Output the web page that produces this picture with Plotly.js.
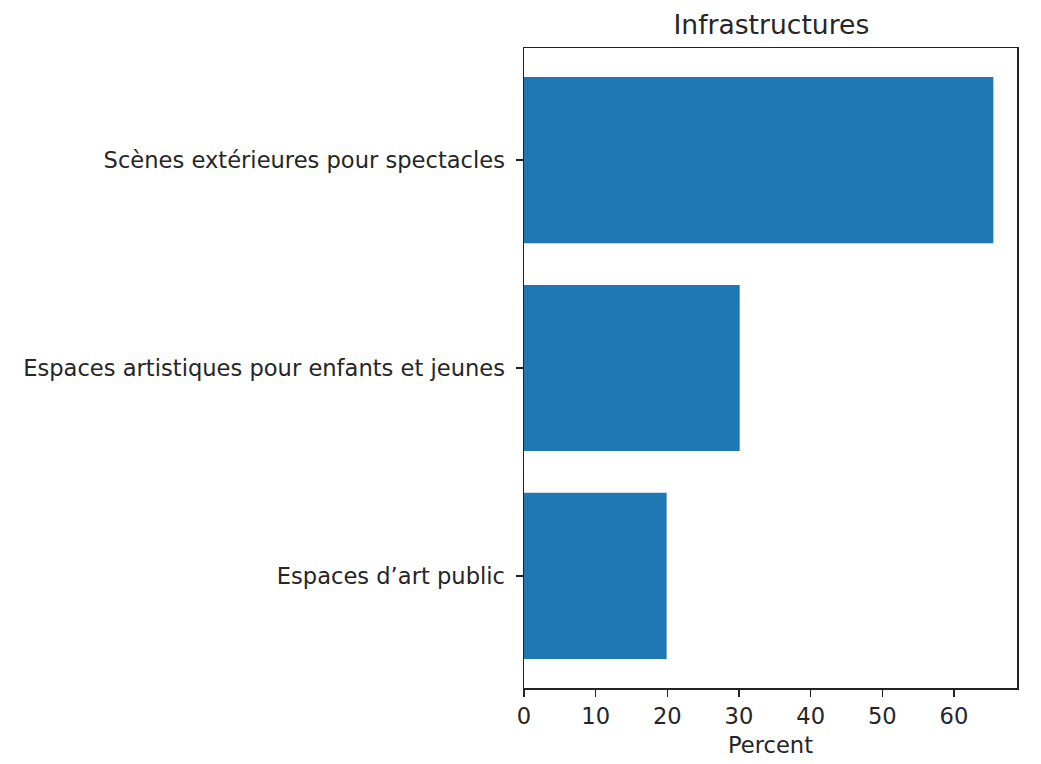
<!DOCTYPE html>
<html>
<head>
<meta charset="utf-8">
<script src="https://cdn.plot.ly/plotly-3.0.1.min.js"></script>
<style>html,body{margin:0;padding:0;background:#fff;}#chart{width:1041px;height:764px;}</style>
</head>
<body>
<div id="chart"></div>
<script>
const categories = ["Espaces d’art public", "Espaces artistiques pour enfants et jeunes", "Scènes extérieures pour spectacles"];
const percents = [19.9, 30.1, 65.5];
const xTicks = [0, 10, 20, 30, 40, 50, 60];
const chartTitle = "Infrastructures";
const xTitle = "Percent";

const font = "DejaVu Sans, sans-serif";
const tc = "#262626";
Plotly.newPlot("chart", [{
  type: "bar",
  orientation: "h",
  y: categories,
  x: percents,
  marker: {color: "#1f77b4"},
  width: 0.8,
  hoverinfo: "x+y"
}], {
  width: 1041, height: 764,
  margin: {l: 524, r: 24, t: 48, b: 76},
  paper_bgcolor: "#fff", plot_bgcolor: "#fff",
  font: {family: font, size: 22.6, color: tc},
  title: {text: chartTitle, font: {family: font, size: 26.6, color: tc}, x: 0.741, xanchor: "center", y: 0.968, yanchor: "middle"},
  showlegend: false,
  xaxis: {
    range: [0, 68.8], tickvals: xTicks, ticktext: xTicks.map(String),
    showgrid: false, zeroline: false, showline: true, mirror: true, linecolor: "#222", linewidth: 1.5,
    ticks: "outside", ticklen: 7, tickwidth: 1.5, tickcolor: "#222",
    tickfont: {family: font, size: 22.6, color: tc},
    title: {text: xTitle, font: {family: font, size: 22.6, color: tc}, standoff: 9}
  },
  yaxis: {
    type: "category", categoryorder: "array", categoryarray: categories,
    range: [-0.54, 2.54],
    showgrid: false, zeroline: false, showline: true, mirror: true, linecolor: "#222", linewidth: 1.5,
    ticks: "outside", ticklen: 7, tickwidth: 1.5, tickcolor: "#222",
    ticklabelstandoff: 6,
    tickfont: {family: font, size: 22.6, color: tc}
  }
}, {displayModeBar: false, staticPlot: true});
</script>
</body>
</html>
